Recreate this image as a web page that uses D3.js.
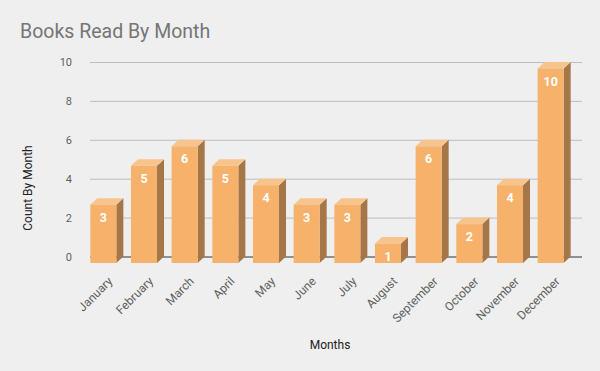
<!DOCTYPE html>
<html>
<head>
<meta charset="utf-8">
<script src="https://cdn.jsdelivr.net/npm/d3@7"></script>
<style>
  body { margin: 0; background: #efefef; }
  svg { display: block; font-family: Roboto, sans-serif; }
</style>
</head>
<body>
<div id="chart"></div>
<script>
const months = ["January", "February", "March", "April", "May", "June", "July",
  "August", "September", "October", "November", "December"]
const booksRead = [3, 5, 6, 5, 4, 3, 3, 1, 6, 2, 4, 10]
const yTicks = [0, 2, 4, 6, 8, 10]

const width = 600
const height = 371

// 3d depth of the bars
const depthX = 7
const depthY = 6.5

const colors = {
  front: "#f6b26b",
  top: "#f8c48e",
  side: "#a47648"
}

const svg = d3.select("#chart")
  .append("svg")
    .attr("width", width)
    .attr("height", height)

svg.append("rect")
  .attr("width", width)
  .attr("height", height)
  .attr("fill", "#efefef")

const xScale = d3.scaleBand()
  .domain(months)
  .range([90, 578])
  .paddingInner(0.36)
  .paddingOuter(0.18)

const yScale = d3.scaleLinear()
  .domain([0, 10])
  .range([256.5, 62])

// gridlines + y labels
const yAxis = d3.axisLeft(yScale)
  .tickValues(yTicks)
  .tickSize(-(582 - 90))
  .tickPadding(18)

svg.append("g")
  .attr("class", "axis-y")
  .attr("transform", "translate(90, 0)")
  .call(yAxis)
  .call(g => g.select(".domain").remove())
  .call(g => g.selectAll("line")
    .attr("stroke", d => d === 0 ? "#333" : "#bdbdbd"))
  .call(g => g.selectAll("text")
    .attr("fill", "#5f5f5f")
    .style("font-size", "11px")
    .style("font-family", "Roboto"))

const bars = svg.append("g")
  .selectAll("g")
  .data(months)
  .join("g")

const bw = xScale.bandwidth()

// side face
bars.append("path")
  .attr("fill", colors.side)
  .attr("d", (d, i) => {
    const x1 = xScale(d) + bw
    const yt = yScale(booksRead[i])
    const yb = yScale(0)
    return `M${x1 - depthX},${yt + depthY} L${x1},${yt} L${x1},${yb} L${x1 - depthX},${yb + depthY} Z`
  })

// top face
bars.append("path")
  .attr("fill", colors.top)
  .attr("d", (d, i) => {
    const x0 = xScale(d)
    const yt = yScale(booksRead[i])
    return `M${x0 - depthX},${yt + depthY} L${x0},${yt} L${x0 + bw},${yt} L${x0 + bw - depthX},${yt + depthY} Z`
  })

// front face
bars.append("rect")
  .attr("fill", colors.front)
  .attr("x", d => xScale(d) - depthX)
  .attr("y", (d, i) => yScale(booksRead[i]) + depthY)
  .attr("width", bw)
  .attr("height", (d, i) => yScale(0) - yScale(booksRead[i]))

bars.append("text")
  .attr("x", d => xScale(d) - depthX + bw / 2)
  .attr("y", (d, i) => yScale(booksRead[i]) + depthY + 17)
  .attr("text-anchor", "middle")
  .attr("fill", "#fff")
  .style("font-size", "12.5px")
  .style("font-weight", "bold")
  .text((d, i) => booksRead[i])

// x labels
const xAxis = d3.axisBottom(xScale).tickSize(0).tickPadding(0)
svg.append("g")
  .attr("class", "axis-x")
  .attr("transform", `translate(${-depthX}, 0)`)
  .call(xAxis)
  .call(g => g.select(".domain").remove())
  .call(g => g.selectAll(".tick").attr("transform", d => `translate(${xScale(d) + bw / 2}, 0)`))
  .call(g => g.selectAll("text")
    .attr("y", null)
    .attr("dy", null)
    .attr("text-anchor", "end")
    .attr("transform", "translate(10, 282) rotate(-45)")
    .attr("fill", "#5f5f5f")
    .style("font-size", "12px")
    .style("font-family", "Roboto"))

svg.append("text")
  .attr("x", 20)
  .attr("y", 38)
  .attr("fill", "#757575")
  .style("font-size", "19.5px")
  .text("Books Read By Month")

svg.append("text")
  .attr("x", 330)
  .attr("y", 349)
  .attr("text-anchor", "middle")
  .attr("fill", "#222")
  .style("font-size", "12px")
  .text("Months")

svg.append("text")
  .attr("transform", "translate(32, 188) rotate(-90)")
  .attr("text-anchor", "middle")
  .attr("fill", "#222")
  .style("font-size", "12px")
  .text("Count By Month")
</script>
</body>
</html>
